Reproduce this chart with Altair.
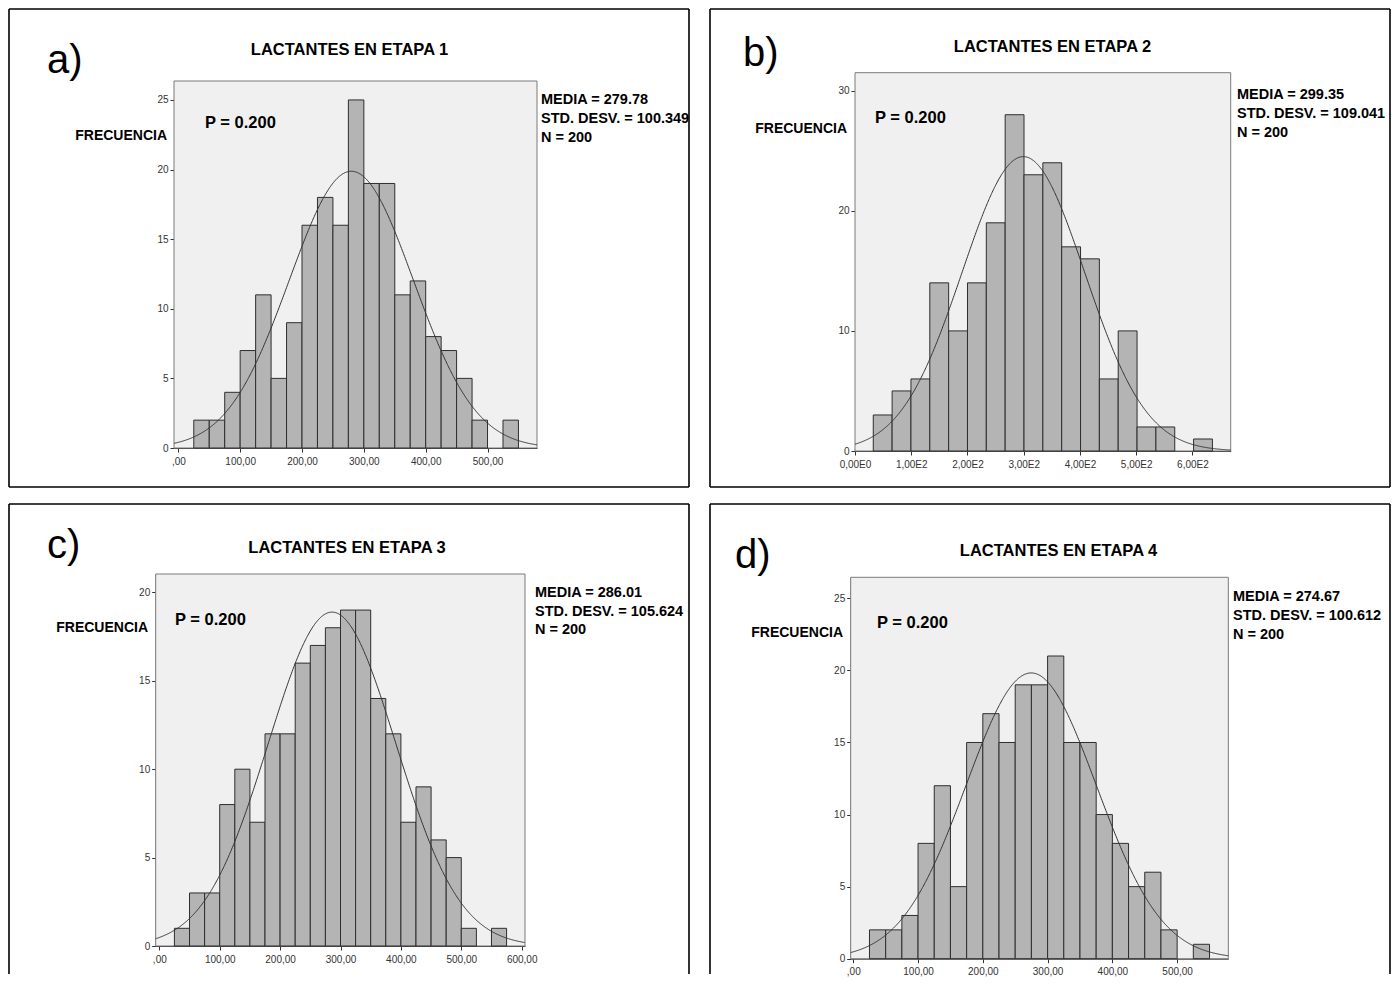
import altair as alt
import pandas as pd

FONT = "Liberation Sans"

# ---------------- data ----------------
LETTERS = ["a)", "b)", "c)", "d)"]
TITLES = ["LACTANTES EN ETAPA 1", "LACTANTES EN ETAPA 2",
          "LACTANTES EN ETAPA 3", "LACTANTES EN ETAPA 4"]
MEDIA = [279.78, 299.35, 286.01, 274.67]
STD_DESV = [100.349, 109.041, 105.624, 100.612]
N_OBS = [200, 200, 200, 200]
P_TEXT = "P = 0.200"
Y_TITLE = "FRECUENCIA"

BIN_START = [25, 32.5, 25, 25]
BIN_WIDTH = [25, 33.5, 25, 25]

COUNTS_A = [2, 2, 4, 7, 11, 5, 9, 16, 18, 16, 25, 19, 19, 11, 12, 8, 7, 5, 2, 0, 2]
COUNTS_B = [3, 5, 6, 14, 10, 14, 19, 28, 23, 24, 17, 16, 6, 10, 2, 2, 0, 1]
COUNTS_C = [1, 3, 3, 8, 10, 7, 12, 12, 16, 17, 18, 19, 19, 14, 12, 7, 9, 6, 5, 1, 0, 1]
COUNTS_D = [2, 2, 3, 8, 12, 5, 15, 17, 15, 19, 19, 21, 15, 15, 10, 8, 5, 6, 2, 0, 1]
COUNTS = [COUNTS_A, COUNTS_B, COUNTS_C, COUNTS_D]

X_TICKS_A = [0, 100, 200, 300, 400, 500]
X_LABELS_A = [",00", "100,00", "200,00", "300,00", "400,00", "500,00"]
X_TICKS_B = [0, 100, 200, 300, 400, 500, 600]
X_LABELS_B = ["0,00E0", "1,00E2", "2,00E2", "3,00E2", "4,00E2", "5,00E2", "6,00E2"]
X_TICKS_C = [0, 100, 200, 300, 400, 500, 600]
X_LABELS_C = [",00", "100,00", "200,00", "300,00", "400,00", "500,00", "600,00"]
X_TICKS_D = [0, 100, 200, 300, 400, 500]
X_LABELS_D = [",00", "100,00", "200,00", "300,00", "400,00", "500,00"]
X_TICKS = [X_TICKS_A, X_TICKS_B, X_TICKS_C, X_TICKS_D]
X_LABELS = [X_LABELS_A, X_LABELS_B, X_LABELS_C, X_LABELS_D]

Y_TICKS_A = [0, 5, 10, 15, 20, 25]
Y_TICKS_B = [0, 10, 20, 30]
Y_TICKS_C = [0, 5, 10, 15, 20]
Y_TICKS_D = [0, 5, 10, 15, 20, 25]
Y_TICKS = [Y_TICKS_A, Y_TICKS_B, Y_TICKS_C, Y_TICKS_D]

X_DOMAINS = [[-7, 580], [0, 668], [-6, 605.5], [-4, 579]]
Y_DOMAINS = [[0, 26.36], [0, 31.5], [0, 21.04], [0, 26.46]]

# ---------------- layout (cell-local pixels) ----------------
CELL_W = 682
CELL_H = [480, 480, 472, 472]
LAYOUT = [
    dict(xr=[166, 529], yr=[440, 73], letter=(39, 65), title=(341.5, 47),
         freq=(159, 132), p=(197, 120), stats=(533, [96, 115, 134])),
    dict(xr=[146, 521.7], yr=[443, 64.7], letter=(34, 58), title=(343.5, 44),
         freq=(138, 125), p=(166, 115), stats=(528, [91, 110, 129])),
    dict(xr=[147.7, 517], yr=[443, 71], letter=(39, 55), title=(339, 50),
         freq=(140, 129), p=(167, 122), stats=(527, [94, 113, 131])),
    dict(xr=[141.7, 519.3], yr=[455.7, 74.3], letter=(26, 65), title=(349.5, 53),
         freq=(134, 134), p=(168, 125), stats=(524, [98, 117, 136])),
]

BAR_FILL = "#b4b4b4"
BAR_STROKE = "#2e2e2e"
PLOT_BG = "#f0f0f0"
FRAME = "#7a7a7a"
AXIS_COLOR = "#333333"

DUMMY = pd.DataFrame({"d": [0]})


def label_expr(ticks, labels):
    expr = "''"
    for t, l in reversed(list(zip(ticks, labels))):
        expr = f"datum.value == {t} ? '{l}' : ({expr})"
    return expr


def text_layer(txt, x, y, size, bold=True, align="left", color="black"):
    return alt.Chart(DUMMY).mark_text(
        text=txt, font=FONT, fontSize=size, fontWeight="bold" if bold else "normal",
        align=align, baseline="alphabetic", color=color
    ).encode(x=alt.value(x), y=alt.value(y))


def panel(i):
    lay = LAYOUT[i]
    cell_h = CELL_H[i]
    counts = COUNTS[i]
    start, w = BIN_START[i], BIN_WIDTH[i]
    edges = [start + k * w for k in range(len(counts))]
    df = pd.DataFrame({"x0": edges, "x1": [e + w for e in edges],
                       "count": counts, "base": [0] * len(counts)})
    df = df[df["count"] > 0]

    xdom, ydom = X_DOMAINS[i], Y_DOMAINS[i]
    xs = alt.Scale(domain=xdom, range=lay["xr"], nice=False, zero=False)
    ys = alt.Scale(domain=ydom, range=lay["yr"], nice=False, zero=False)
    axis_style = dict(title=None, grid=False, labelFont=FONT, labelFontSize=10,
                      labelColor=AXIS_COLOR, tickColor=AXIS_COLOR, domainColor=AXIS_COLOR,
                      tickSize=4)
    xaxis = alt.Axis(values=X_TICKS[i], labelExpr=label_expr(X_TICKS[i], X_LABELS[i]),
                     orient="bottom", offset=lay["yr"][0] - cell_h, labelFlush=False,
                     labelOverlap=False, labelPadding=4, **axis_style)
    yaxis = alt.Axis(values=Y_TICKS[i], orient="left", offset=-lay["xr"][0],
                     format="d", labelPadding=2, **axis_style)

    frame_df = pd.DataFrame({"fx0": [xdom[0]], "fx1": [xdom[1]],
                             "fy0": [ydom[0]], "fy1": [ydom[1]]})
    frame = alt.Chart(frame_df).mark_rect(fill=PLOT_BG, stroke=FRAME, strokeWidth=1).encode(
        x=alt.X("fx0:Q", scale=xs, axis=xaxis), x2="fx1",
        y=alt.Y("fy0:Q", scale=ys, axis=yaxis), y2="fy1")

    bars = alt.Chart(df).mark_rect(fill=BAR_FILL, stroke=BAR_STROKE, strokeWidth=1).encode(
        x=alt.X("x0:Q", scale=xs, axis=xaxis), x2="x1",
        y=alt.Y("count:Q", scale=ys, axis=yaxis), y2="base")

    m, sd, n = MEDIA[i], STD_DESV[i], N_OBS[i]
    curve = alt.Chart(alt.sequence(xdom[0], xdom[1] + 0.5, 1, as_="cx")).transform_calculate(
        cy=f"{n}*{w}/({sd}*sqrt(2*PI))*exp(-0.5*pow((datum.cx-{m})/{sd},2))"
    ).mark_line(color="#333333", strokeWidth=1).encode(
        x=alt.X("cx:Q", scale=xs, axis=xaxis), y=alt.Y("cy:Q", scale=ys, axis=yaxis))

    sx, sys_ = lay["stats"]
    stats = [f"MEDIA = {m:.2f}", f"STD. DESV. = {sd:.3f}", f"N = {n}"]

    layers = [frame, bars, curve,
              text_layer(LETTERS[i], lay["letter"][0], lay["letter"][1], 40, bold=False),
              text_layer(TITLES[i], lay["title"][0], lay["title"][1], 16.5, align="center"),
              text_layer(Y_TITLE, lay["freq"][0], lay["freq"][1], 14, align="right"),
              text_layer(P_TEXT, lay["p"][0], lay["p"][1], 16.5)]
    for k, s in enumerate(stats):
        layers.append(text_layer(s, sx, sys_[k], 14.5))

    # panel border
    bstyle = dict(color="black", strokeWidth=1.6)
    top, bottom = 1, cell_h - 1
    left, right = 1, CELL_W - 1
    layers.append(alt.Chart(DUMMY).mark_rule(**bstyle).encode(
        x=alt.value(left), x2=alt.value(right), y=alt.value(top)))
    layers.append(alt.Chart(DUMMY).mark_rule(**bstyle).encode(
        x=alt.value(left), y=alt.value(top), y2=alt.value(bottom)))
    layers.append(alt.Chart(DUMMY).mark_rule(**bstyle).encode(
        x=alt.value(right), y=alt.value(top), y2=alt.value(bottom)))
    if i < 2:
        layers.append(alt.Chart(DUMMY).mark_rule(**bstyle).encode(
            x=alt.value(left), x2=alt.value(right), y=alt.value(bottom)))

    return alt.layer(*layers).properties(width=CELL_W, height=cell_h)


chart = alt.concat(panel(0), panel(1), panel(2), panel(3), columns=2,
                   spacing={"row": 15, "column": 19}, bounds="flush").properties(
    padding=0, background="white"
).configure_view(stroke=None)

chart.save("out.html", embed_options={"renderer": "svg", "actions": False})
